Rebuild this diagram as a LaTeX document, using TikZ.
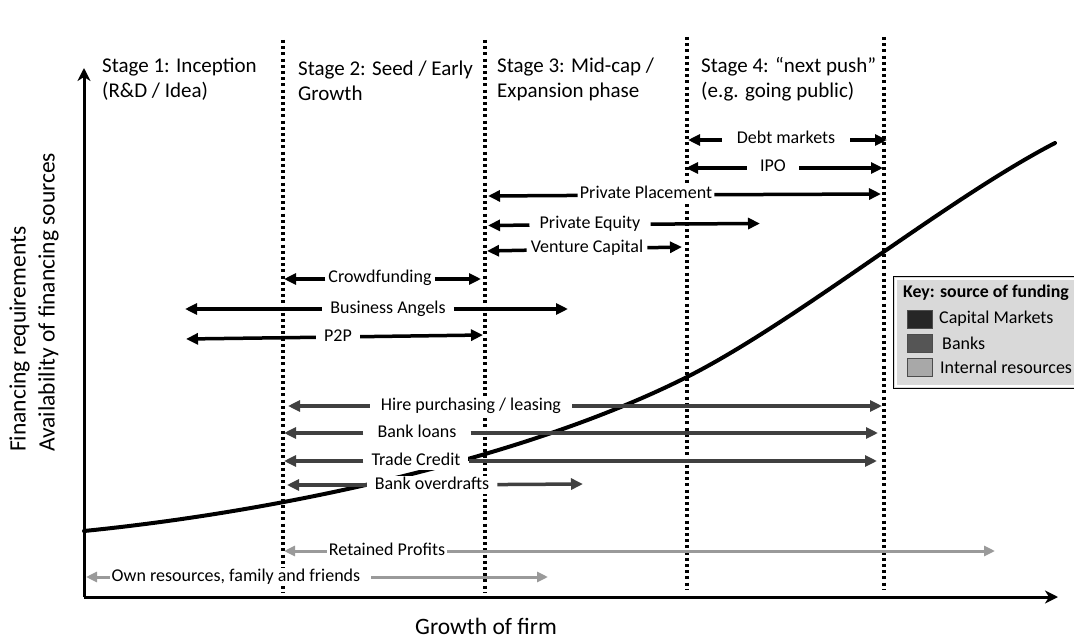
\documentclass[tikz,border=0pt]{standalone}
\usepackage{fontspec}
\setmainfont{Carlito}
\usetikzlibrary{arrows.meta}
\definecolor{bankc}{HTML}{404040}
\definecolor{intc}{HTML}{9A9A9A}
\definecolor{keyfill}{HTML}{D9D9D9}
\definecolor{swcap}{HTML}{262626}
\definecolor{swbank}{HTML}{555555}
\definecolor{swint}{HTML}{A8A8A8}
\tikzset{
  lab/.style={fill=white, inner ysep=1pt, font=\fontsize{18}{21}\selectfont, text height=12pt, text depth=4pt},
  capar/.style={draw=black, line width=3.5pt, -{Triangle[length=12pt,width=11pt]}},
  bankar/.style={draw=bankc, line width=3.5pt, -{Triangle[length=12pt,width=11pt]}},
  intar/.style={draw=intc, line width=3pt, -{Triangle[length=11pt,width=10pt]}},
  sepline/.style={line width=3.2pt, dash pattern=on 3pt off 3.2pt},
  stagelab/.style={anchor=base west, align=left, font=\fontsize{21}{25}\selectfont, inner sep=0pt},
  axisline/.style={line width=3pt, -{Stealth[length=13pt,width=13pt,inset=4pt]}},
  growth/.style={line width=4pt, line cap=round},
  keybox/.style={draw=black, line width=1.2pt, fill=keyfill, anchor=north west, minimum width=200pt, minimum height=112pt},
  swatch/.style={draw=black!70, line width=0.8pt, minimum width=25pt, minimum height=18pt, inner sep=0pt},
  keytxt/.style={anchor=west, inner sep=0pt, font=\fontsize{18}{20}\selectfont},
}
\begin{document}
\begin{tikzpicture}[x=1pt,y=-1pt]
\path[use as bounding box] (0,0) rectangle (1074,639);
\clip (0,0) rectangle (1074,639);

% stage separators
\draw[sepline] (283,40) -- (283,593);
\draw[sepline] (485,40) -- (485,593);
\draw[sepline] (687,37) -- (687,589);
\draw[sepline] (884,37) -- (884,589);

% stage labels (base anchor = baseline of the last line)
\node[stagelab] (st1) at (102,98) {Stage 1: Inception\\(R\&D / Idea)};
\node[stagelab] (st2) at (298,101) {Stage 2: Seed / Early\\Growth};
\node[stagelab] (st3) at (497,98) {Stage 3: Mid-cap /\\Expansion phase};
\node[stagelab] (st4) at (701,98) {Stage 4: “next push”\\(e.g. going public)};

% growth curve
\coordinate (c0) at (84,531);
\coordinate (c1) at (685,378);
\coordinate (c2) at (1055,143);
\draw[growth] (c0) .. controls (284,511) and (525,458) .. (c1) .. controls (795,323) and (945,200) .. (c2);

% axes
\coordinate (O) at (84,597);
\coordinate (ytop) at (84,68);
\coordinate (xend) at (1058,597);
\draw[axisline] (O) -- (ytop);
\draw[axisline] (O) -- (xend);
\node[rotate=90, anchor=base west, align=left, inner sep=0pt, font=\fontsize{23.5}{29}\selectfont] (ylab) at (54.5,452) {Financing requirements\\Availability of financing sources};
\node[font=\fontsize{23.5}{28}\selectfont] (xlab) at (486,626) {Growth of firm};

% capital markets
\coordinate (dmL) at (688,140); \coordinate (dmR) at (887,140);
\node[lab, inner xsep=15pt] (dm) at (786,140) {Debt markets};
\draw[capar] (dm) -- (dmL); \draw[capar] (dm) -- (dmR);

\coordinate (ipoL) at (686,168); \coordinate (ipoR) at (883,168);
\node[lab, inner xsep=13pt] (ipo) at (773,168) {IPO};
\draw[capar] (ipo) -- (ipoL); \draw[capar] (ipo) -- (ipoR);

\coordinate (ppL) at (488,196); \coordinate (ppR) at (881,194);
\node[lab, inner xsep=2pt] (pp) at (646,195) {Private Placement};
\draw[capar] (pp) -- (ppL); \draw[capar] (pp) -- (ppR);

\coordinate (peL) at (488,225.5); \coordinate (peR) at (760,223.5);
\node[lab, inner xsep=10pt] (pe) at (590,224.5) {Private Equity};
\draw[capar] (pe) -- (peL); \draw[capar] (pe) -- (peR);

\coordinate (vcL) at (487,251); \coordinate (vcR) at (682,247);
\node[lab, inner xsep=4pt] (vc) at (587,249) {Venture Capital};
\draw[capar] (vc) -- (vcL); \draw[capar] (vc) -- (vcR);

\coordinate (cfL) at (284,279); \coordinate (cfR) at (481,279);
\node[lab, inner xsep=3pt] (cf) at (380,279) {Crowdfunding};
\draw[capar] (cf) -- (cfL); \draw[capar] (cf) -- (cfR);

\coordinate (baL) at (185,309); \coordinate (baR) at (568,309);
\node[lab, inner xsep=8pt] (ba) at (388,309) {Business Angels};
\draw[capar] (ba) -- (baL); \draw[capar] (ba) -- (baR);

\coordinate (p2pL) at (186,339); \coordinate (p2pR) at (483,335);
\node[lab, inner xsep=8pt] (p2p) at (338,337) {P2P};
\draw[capar] (p2p) -- (p2pL); \draw[capar] (p2p) -- (p2pR);

% banks
\coordinate (hpL) at (288,406); \coordinate (hpR) at (882,406);
\node[lab, inner xsep=11pt] (hp) at (471,406) {Hire purchasing / leasing};
\draw[bankar] (hp) -- (hpL); \draw[bankar] (hp) -- (hpR);

\coordinate (blL) at (284,433); \coordinate (blR) at (878,433);
\node[lab, inner xsep=14pt] (bl) at (417,433) {Bank loans};
\draw[bankar] (bl) -- (blL); \draw[bankar] (bl) -- (blR);

\coordinate (tcL) at (284,461); \coordinate (tcR) at (877,461);
\node[lab, inner xsep=8pt] (tc) at (416,461) {Trade Credit};
\draw[bankar] (tc) -- (tcL); \draw[bankar] (tc) -- (tcR);

\coordinate (boL) at (287,485); \coordinate (boR) at (583,484);
\node[lab, inner xsep=8pt] (bo) at (432,485) {Bank overdrafts};
\draw[bankar] (bo) -- (boL); \draw[bankar] (bo) -- (boR);

% internal resources
\coordinate (rpL) at (284,551); \coordinate (rpR) at (995,551);
\node[lab, inner xsep=2pt] (rp) at (387,551) {Retained Profits};
\draw[intar] (rp) -- (rpL); \draw[intar] (rp) -- (rpR);

\coordinate (orL) at (86,577); \coordinate (orR) at (548,577);
\node[lab, inner xsep=2pt] (or) at (236,577) {Own resources, family and friends};
\draw[intar] (or) -- (orL); \draw[intar, shorten <=9pt] (or) -- (orR);

% key
\node[keybox] (key) at (893,276) {};
\draw[white, line width=1.5pt] ([shift={(3,3)}]key.north west) rectangle ([shift={(-3,-3)}]key.south east);
\node[anchor=west, inner sep=0pt, font=\bfseries\fontsize{17.8}{20}\selectfont] (keyt) at (903,293) {Key: source of funding};
\node[swatch, fill=swcap] (sw1) at (919.5,319) {};
\node[swatch, fill=swbank] (sw2) at (919.5,343) {};
\node[swatch, fill=swint] (sw3) at (919.5,367) {};
\node[keytxt] (k1) at (939,319) {Capital Markets};
\node[keytxt] (k2) at (942,343) {Banks};
\node[keytxt] (k3) at (940,367) {Internal resources};
\end{tikzpicture}
\end{document}
